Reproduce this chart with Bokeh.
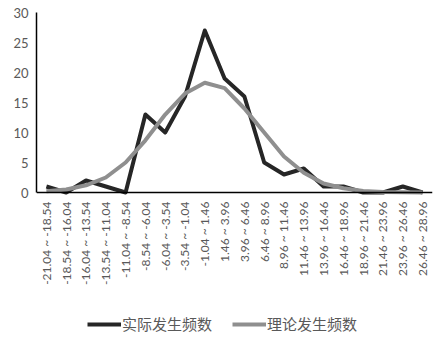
import math
from bokeh.plotting import figure
from bokeh.models import FactorRange, Range1d, Legend, LegendItem, ColumnDataSource, FixedTicker
from bokeh.embed import file_html
from bokeh.resources import INLINE

categories = ["-21.04 ~ -18.54", "-18.54 ~ -16.04", "-16.04 ~ -13.54", "-13.54 ~ -11.04",
              "-11.04 ~ -8.54", "-8.54 ~ -6.04", "-6.04 ~ -3.54", "-3.54 ~ -1.04",
              "-1.04 ~ 1.46", "1.46 ~ 3.96", "3.96 ~ 6.46", "6.46 ~ 8.96",
              "8.96 ~ 11.46", "11.46 ~ 13.96", "13.96 ~ 16.46", "16.46 ~ 18.96",
              "18.96 ~ 21.46", "21.46 ~ 23.96", "23.96 ~ 26.46", "26.46 ~ 28.96"]
actual = [1, 0, 2, 1, 0, 13, 10, 16, 27, 19, 16, 5, 3, 4, 1, 1, 0, 0, 1, 0]
theory = [0.2, 0.5, 1.2, 2.5, 5.0, 8.7, 13.0, 16.5, 18.3, 17.4, 14.0, 10.0,
          6.0, 3.3, 1.5, 0.7, 0.25, 0.1, 0.05, 0.0]
y_ticks = [0, 5, 10, 15, 20, 25, 30]
names = ["实际发生频数", "理论发生频数"]

src = ColumnDataSource(dict(x=categories, a=actual, t=theory))

# frame extends below the value axis so the category labels and legend sit inside it
p = figure(frame_width=396, frame_height=329, x_range=FactorRange(*categories),
           y_range=Range1d(-24.83, 30),
           output_backend="svg", toolbar_location=None,
           min_border_left=36, min_border_right=6, min_border_top=12, min_border_bottom=0)
p.outline_line_color = None
p.grid.visible = False
p.background_fill_color = "white"
p.border_fill_color = "white"

r1 = p.line("x", "a", source=src, line_color="#262626", line_width=4, line_join="round")
r2 = p.line("x", "t", source=src, line_color="#8f8f8f", line_width=4, line_join="round")

p.yaxis.ticker = FixedTicker(ticks=y_ticks)
p.yaxis.bounds = (0, 30)
p.xaxis.fixed_location = 0
for ax in (p.xaxis[0], p.yaxis[0]):
    ax.axis_line_color = "#000000"
    ax.axis_line_width = 1.5
    ax.major_tick_line_color = None
    ax.minor_tick_line_color = None
    ax.major_tick_out = 0
    ax.major_tick_in = 0
    ax.major_label_text_color = "#595959"
    ax.major_label_text_font = "Lato"
p.yaxis.major_label_text_font_size = "13px"
p.yaxis.major_label_standoff = 8
p.xaxis.major_label_text_font_size = "12px"
p.xaxis.major_label_orientation = math.pi / 2
p.xaxis.major_label_standoff = 9

legend = Legend(items=[LegendItem(label=names[0], renderers=[r1]),
                       LegendItem(label=names[1], renderers=[r2])],
                orientation="horizontal", location=(51, 7),
                label_text_font="Noto Sans CJK SC", label_text_font_size="15px",
                label_text_color="#595959", glyph_width=34, glyph_height=20,
                label_height=20, label_standoff=1,
                spacing=20, border_line_color=None, background_fill_alpha=0,
                margin=0, padding=0)
p.add_layout(legend, "center")

open("out.html", "w").write(file_html(p, INLINE))
